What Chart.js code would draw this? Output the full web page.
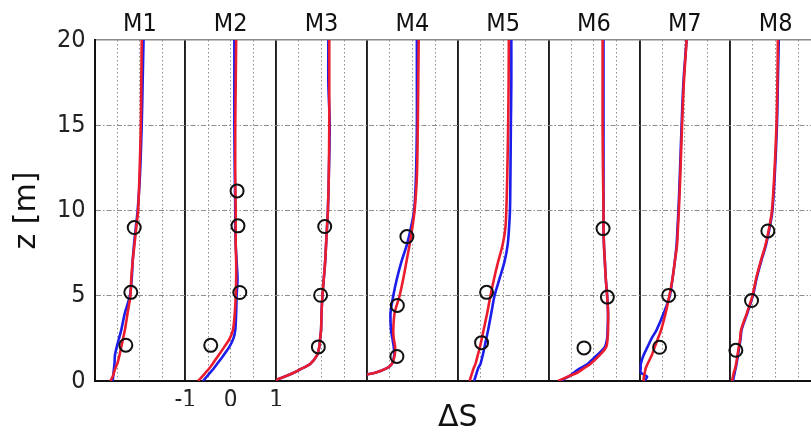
<!DOCTYPE html>
<html>
<head>
<meta charset="utf-8">
<script src="https://cdn.jsdelivr.net/npm/chart.js@4.4.1/dist/chart.umd.min.js"></script>
<style>
  html, body { margin: 0; padding: 0; overflow: hidden; background: #fff; }
  #wrap { width: 821px; height: 432px; overflow: hidden; }
  canvas { display: block; width: 821px; height: 432px; }
</style>
</head>
<body>
<div id="wrap"><canvas id="c" width="821" height="432"></canvas></div>
<script>
// Station names, one panel each
const stations = ['M1', 'M2', 'M3', 'M4', 'M5', 'M6', 'M7', 'M8'];

// Depth levels (m) of the modelled profiles
const zLine = [0, 0.25, 0.5, 0.75, 1, 1.5, 2, 2.5, 3, 4, 5, 6, 7, 8, 9, 10, 12, 15, 17.5, 20];

// Modelled ΔS profiles, run A (blue)
const blueM1 = [-0.60, -0.59, -0.58, -0.57, -0.56, -0.55, -0.51, -0.46, -0.41, -0.33, -0.22, -0.18, -0.16, -0.13, -0.09, -0.05, 0.00, 0.04, 0.06, 0.08];
const blueM2 = [-0.61, -0.53, -0.45, -0.37, -0.30, -0.16, -0.03, 0.06, 0.10, 0.12, 0.13, 0.15, 0.13, 0.11, 0.10, 0.10, 0.09, 0.08, 0.08, 0.08];
const blueM3 = [-1.08, -0.82, -0.60, -0.42, -0.25, -0.10, -0.05, -0.03, -0.01, 0.00, 0.02, 0.05, 0.08, 0.10, 0.12, 0.14, 0.16, 0.18, 0.15, 0.15];
const blueM4 = [-1.60, -1.25, -0.80, -0.56, -0.45, -0.40, -0.41, -0.44, -0.47, -0.48, -0.42, -0.34, -0.24, -0.12, -0.03, 0.04, 0.08, 0.10, 0.10, 0.10];
const blueM5 = [-0.64, -0.61, -0.58, -0.55, -0.50, -0.45, -0.41, -0.37, -0.33, -0.26, -0.19, -0.08, 0.03, 0.10, 0.13, 0.15, 0.16, 0.17, 0.18, 0.18];
const blueM6 = [-0.76, -0.56, -0.44, -0.30, -0.14, 0.06, 0.24, 0.29, 0.30, 0.31, 0.29, 0.26, 0.24, 0.22, 0.21, 0.21, 0.21, 0.21, 0.21, 0.21];
const blueM7 = [-0.90, -0.83, -0.97, -0.97, -0.97, -0.91, -0.82, -0.73, -0.62, -0.46, -0.33, -0.27, -0.22, -0.18, -0.16, -0.14, -0.11, -0.07, -0.03, 0.04];
const blueM8 = [-0.94, -0.92, -0.90, -0.88, -0.86, -0.83, -0.80, -0.77, -0.75, -0.62, -0.50, -0.42, -0.32, -0.21, -0.13, -0.07, -0.02, 0.03, 0.05, 0.07];

// Modelled ΔS profiles, run B (red)
const redM1 = [-0.65, -0.60, -0.57, -0.54, -0.50, -0.45, -0.41, -0.37, -0.33, -0.27, -0.21, -0.19, -0.16, -0.12, -0.08, -0.04, -0.01, 0.02, 0.03, 0.04];
const redM2 = [-0.72, -0.63, -0.55, -0.47, -0.40, -0.27, -0.14, -0.02, 0.05, 0.09, 0.11, 0.12, 0.12, 0.11, 0.11, 0.11, 0.10, 0.10, 0.11, 0.12];
const redM3 = [-1.08, -0.82, -0.60, -0.42, -0.25, -0.10, -0.05, -0.03, -0.01, 0.00, 0.02, 0.05, 0.08, 0.10, 0.12, 0.14, 0.16, 0.17, 0.17, 0.17];
const redM4 = [-1.60, -1.25, -0.80, -0.56, -0.45, -0.39, -0.38, -0.41, -0.42, -0.39, -0.28, -0.20, -0.13, -0.06, 0.00, 0.05, 0.10, 0.12, 0.13, 0.14];
const redM5 = [-0.74, -0.71, -0.68, -0.65, -0.61, -0.56, -0.51, -0.47, -0.43, -0.35, -0.28, -0.20, -0.11, -0.01, 0.05, 0.07, 0.09, 0.11, 0.12, 0.125];
const redM6 = [-0.79, -0.58, -0.36, -0.22, -0.08, 0.12, 0.27, 0.30, 0.31, 0.31, 0.29, 0.26, 0.24, 0.22, 0.21, 0.21, 0.20, 0.19, 0.19, 0.19];
const redM7 = [-0.91, -0.90, -0.88, -0.86, -0.82, -0.73, -0.66, -0.59, -0.52, -0.42, -0.34, -0.27, -0.22, -0.17, -0.15, -0.13, -0.10, -0.06, -0.02, 0.04];
const redM8 = [-0.96, -0.94, -0.92, -0.89, -0.87, -0.84, -0.81, -0.78, -0.76, -0.63, -0.51, -0.43, -0.33, -0.22, -0.14, -0.08, -0.03, 0.02, 0.04, 0.05];

// Observations: depth (m) and ΔS per station
const obsZM1 = [9.0, 5.2, 2.1];          const obsSM1 = [-0.125, -0.20, -0.31];
const obsZM2 = [11.15, 9.1, 5.19, 2.09]; const obsSM2 = [0.14, 0.16, 0.20, -0.44];
const obsZM3 = [9.06, 5.03, 2.0];         const obsSM3 = [0.07, -0.02, -0.07];
const obsZM4 = [8.47, 4.43, 1.44];        const obsSM4 = [-0.12, -0.33, -0.34];
const obsZM5 = [5.2, 2.25];               const obsSM5 = [-0.365, -0.475];
const obsZM6 = [8.94, 4.92, 1.94];        const obsSM6 = [0.20, 0.295, -0.22];
const obsZM7 = [5.02, 1.98];              const obsSM7 = [-0.355, -0.555];
const obsZM8 = [8.8, 4.72, 1.8];          const obsSM8 = [-0.17, -0.53, -0.875];

// Axis ticks
const zTicks = [0, 5, 10, 15, 20];
const dsTickLabels = [-1, 0, 1];

const blueSeries = [blueM1, blueM2, blueM3, blueM4, blueM5, blueM6, blueM7, blueM8];
const redSeries = [redM1, redM2, redM3, redM4, redM5, redM6, redM7, redM8];
const obsZ = [obsZM1, obsZM2, obsZM3, obsZM4, obsZM5, obsZM6, obsZM7, obsZM8];
const obsS = [obsSM1, obsSM2, obsSM3, obsSM4, obsSM5, obsSM6, obsSM7, obsSM8];

const NARROW = "'DejaVu Sans Condensed', 'DejaVu Sans', sans-serif";
const WIDE = "'DejaVu Sans', sans-serif";
const BLUE = 'rgb(28, 28, 235)';
const RED = 'rgb(235, 28, 45)';

const toPoints = (xs, zs) => xs.map((v, i) => ({ x: v, y: zs[i] }));

const datasets = [];
stations.forEach((name, i) => {
  const xAxisID = 'x' + (i + 1);
  datasets.push({
    label: name + ' B', data: toPoints(redSeries[i], zLine), xAxisID, yAxisID: 'y',
    showLine: true, borderColor: RED, borderWidth: 2.6, pointRadius: 0, tension: 0.3, order: 1
  });
  datasets.push({
    label: name + ' A', data: toPoints(blueSeries[i], zLine), xAxisID, yAxisID: 'y',
    showLine: true, borderColor: BLUE, borderWidth: 2.6, pointRadius: 0, tension: 0.3, order: 2
  });
  datasets.push({
    label: name + ' obs', data: toPoints(obsS[i], obsZ[i]), xAxisID, yAxisID: 'y',
    showLine: false, pointStyle: 'circle', pointRadius: 6.5, pointBorderWidth: 2,
    pointBorderColor: '#111', pointBackgroundColor: 'rgba(0,0,0,0)', clip: false, order: 0
  });
});

const isEdge = (c) => c.tick && Math.abs(c.tick.value) === 1;

const scales = {};
// Bottom axes: one per panel, placed side by side
stations.forEach((name, i) => {
  const labelled = i === 1;
  scales['x' + (i + 1)] = {
    type: 'linear', position: 'bottom', stack: 'panels', stackWeight: 1,
    min: -1, max: 1,
    ticks: {
      display: labelled, stepSize: 0.5, autoSkip: false, maxRotation: 0, padding: 5,
      color: '#222', font: { family: NARROW, size: 24 },
      callback: (v) => dsTickLabels.includes(v) ? String(v) : ''
    },
    grid: {
      drawTicks: false,
      color: (c) => isEdge(c) ? '#1c1c1c' : '#8e8e8e',
      lineWidth: (c) => isEdge(c) ? 1.7 : 1
    },
    border: { display: true, color: '#111', width: 2, dash: (c) => (c.tick && !isEdge(c)) ? [1.5, 2.5] : [] },
    afterFit: (s) => { s.height = 25; s.paddingLeft = 0; s.paddingRight = 0; }
  };
});
// Shared quantity label under all panels
scales.xLabel = {
  type: 'linear', position: 'bottom', min: -1, max: 1,
  ticks: { display: false }, grid: { display: false }, border: { display: false },
  title: { display: true, text: 'ΔS', color: '#111', font: { family: WIDE, size: 30 }, padding: { top: 0, bottom: -4 } },
  afterFit: (s) => { s.height = 26; s.paddingLeft = 0; s.paddingRight = 0; }
};
// Top axes carrying the station names (top boxes are laid out in reverse order)
for (let i = stations.length - 1; i >= 0; i--) {
  scales['t' + (i + 1)] = {
    type: 'linear', position: 'top', stack: 'names', stackWeight: 1, min: -1, max: 1,
    ticks: { display: false }, grid: { display: false },
    border: { display: true, color: '#8a8a8a', width: 1.5 },
    title: { display: true, text: stations[i], color: '#111', font: { family: NARROW, size: 25 }, padding: { top: 9, bottom: 0 } },
    afterFit: (s) => { s.height = 40; s.paddingLeft = 0; s.paddingRight = 0; }
  };
}
scales.y = {
  type: 'linear', position: 'left', min: 0, max: 20,
  afterBuildTicks: (s) => { s.ticks = zTicks.map((v) => ({ value: v })); },
  ticks: { color: '#222', padding: 9, font: { family: NARROW, size: 25 } },
  grid: {
    drawTicks: false,
    color: (c) => (c.tick && (c.tick.value === 0 || c.tick.value === 20)) ? 'rgba(0,0,0,0)' : '#8e8e8e',
    lineWidth: 1
  },
  border: { display: true, color: '#111', width: 2, dash: (c) => c.tick ? [5, 2, 1.5, 2] : [] },
  title: { display: true, text: 'z [m]', color: '#111', font: { family: WIDE, size: 30 }, padding: { top: 9, bottom: 0 } },
  afterFit: (s) => { s.width = 94.5; s.paddingTop = 0; s.paddingBottom = 0; }
};

new Chart(document.getElementById('c'), {
  type: 'scatter',
  data: { datasets },
  options: {
    responsive: false,
    devicePixelRatio: 1,
    animation: false,
    events: [],
    layout: { padding: 0, autoPadding: false },
    plugins: { legend: { display: false }, title: { display: false }, tooltip: { enabled: false } },
    scales
  }
});
</script>
</body>
</html>
